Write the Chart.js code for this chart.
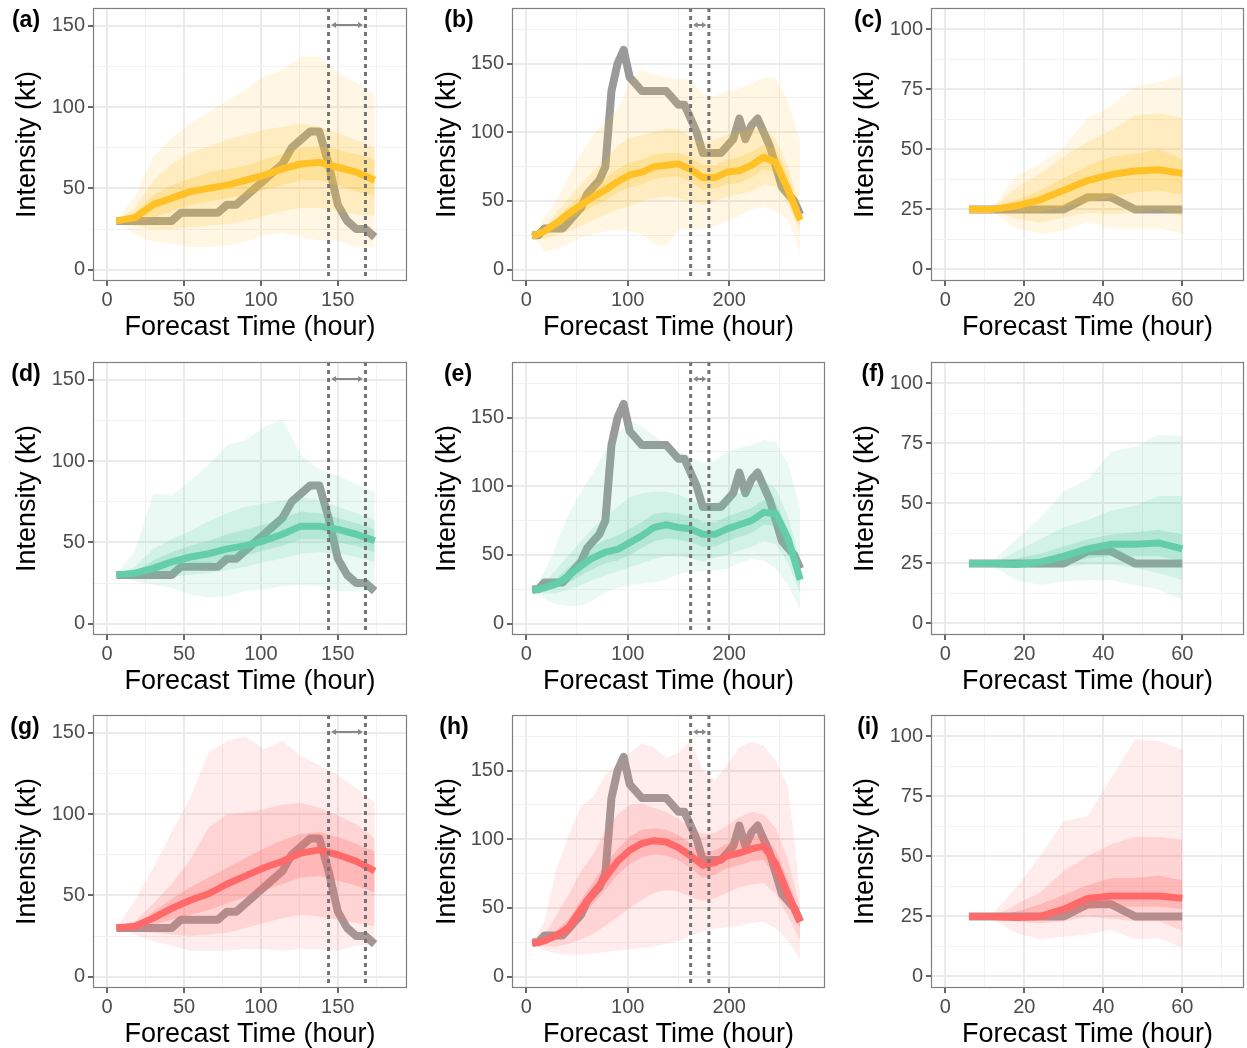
<!DOCTYPE html>
<html>
<head>
<meta charset="utf-8">
<script src="https://cdn.jsdelivr.net/npm/chart.js@4.4.0/dist/chart.umd.min.js"></script>
<style>
  body { margin: 0; background: #fff; overflow: hidden; }
  canvas { position: absolute; }
</style>
</head>
<body>
<canvas id="pa"></canvas><canvas id="pb"></canvas><canvas id="pc"></canvas>
<canvas id="pd"></canvas><canvas id="pe"></canvas><canvas id="pf"></canvas>
<canvas id="pg"></canvas><canvas id="ph"></canvas><canvas id="pi"></canvas>
<script>
// forecast hours (bands) and observed track hours
const hoursA = [6, 18, 30, 42, 54, 66, 78, 90, 102, 114, 126, 138, 150, 162, 174];
const hoursAObs = [6, 12, 18, 24, 30, 36, 42, 48, 54, 60, 66, 72, 78, 84, 90, 96, 102, 108, 114, 120, 126, 132, 138, 144, 150, 156, 162, 168, 174];
const hoursB = [6, 18, 30, 42, 54, 66, 78, 90, 102, 114, 126, 138, 150, 162, 174, 186, 198, 210, 222, 234, 246, 258, 270];
const hoursBObs = [6, 12, 18, 24, 30, 36, 42, 48, 54, 60, 66, 72, 78, 84, 90, 96, 102, 108, 114, 120, 126, 132, 138, 144, 150, 156, 162, 168, 174, 180, 186, 192, 198, 204, 210, 216, 222, 228, 234, 240, 246, 252, 258, 264, 270];
const hoursC = [6, 12, 18, 24, 30, 36, 42, 48, 54, 60];

// observed intensity (kt)
const obsA = [30, 30, 30, 30, 30, 30, 30, 35, 35, 35, 35, 35, 40, 40, 45, 50, 55, 60, 65, 75, 80, 85, 85, 65, 40, 30, 25, 25, 20];
const obsB = [25, 25, 30, 30, 30, 30, 35, 40, 45, 55, 60, 65, 75, 130, 150, 160, 140, 135, 130, 130, 130, 130, 130, 125, 120, 120, 110, 100, 85, 85, 85, 85, 90, 95, 110, 95, 105, 110, 100, 90, 75, 60, 55, 50, 40];
const obsC = [25, 25, 25, 25, 25, 30, 30, 25, 25, 25];

// vertical markers (hour)
const marksA = [144, 168];
const marksB = [162, 180];

// tick values
const xTicksA = [0, 25, 50, 75, 100, 125, 150, 175];
const yTicksA = [0, 25, 50, 75, 100, 125, 150];
const xTicksB = [0, 50, 100, 150, 200, 250];
const yTicksB = [0, 25, 50, 75, 100, 125, 150, 175];
const xTicksC = [0, 10, 20, 30, 40, 50, 60, 70];
const yTicksC = [0, 12.5, 25, 37.5, 50, 62.5, 75, 87.5, 100];

// (a) yellow
const aMed = [30, 32, 40, 44, 48, 50, 52, 55, 58, 62, 65, 66, 63, 60, 55];
const aHi1 = [30, 45, 70, 81, 90, 97, 104, 111, 119, 123, 131, 131, 121, 115, 108];
const aLo1 = [30, 22, 17, 16, 14, 14, 15, 17, 21, 23, 20, 18, 18, 14, 14];
const aHi2 = [30, 38, 55, 65, 72, 76, 80, 83, 86, 88, 90, 88, 84, 80, 75];
const aLo2 = [30, 27, 25, 25, 26, 27, 28, 30, 33, 36, 38, 38, 36, 34, 33];
const aHi3 = [30, 35, 46, 52, 56, 60, 62, 64, 68, 71, 75, 76, 74, 71, 68];
const aLo3 = [30, 29, 32, 36, 40, 42, 44, 46, 49, 52, 55, 55, 52, 48, 45];

// (b) yellow
const bMed = [24, 28, 34, 41, 47, 53, 58, 64, 69, 71, 75, 76, 77, 73, 67, 67, 71, 72, 76, 82, 78, 58, 36];
const bHi1 = [25, 38, 51, 68, 85, 98, 108, 117, 137, 145, 142, 140, 139, 138, 128, 126, 130, 132, 135, 140, 139, 123, 93];
const bLo1 = [25, 13, 15, 19, 23, 26, 28, 29, 28, 26, 19, 17, 29, 29, 30, 32, 35, 39, 44, 46, 42, 37, 12];
const bHi2 = [25, 30, 42, 52, 62, 72, 80, 90, 96, 98, 100, 103, 102, 97, 92, 95, 98, 100, 103, 103, 95, 75, 45];
const bLo2 = [24, 22, 25, 28, 32, 36, 40, 44, 46, 50, 52, 53, 52, 50, 47, 50, 53, 55, 57, 62, 60, 48, 28];
const bHi3 = [25, 31, 38, 46, 54, 61, 67, 73, 78, 80, 84, 85, 85, 82, 76, 76, 80, 82, 86, 91, 88, 68, 40];
const bLo3 = [23, 25, 30, 36, 41, 46, 50, 56, 60, 62, 66, 67, 68, 64, 58, 59, 62, 63, 67, 73, 70, 54, 32];

// (c) yellow
const cMed = [25, 25, 26.5, 29, 33, 37, 39.5, 41, 41.5, 40];
const cHi1 = [25, 26, 39, 44, 51, 63, 68, 76, 78, 81];
const cLo1 = [25, 24, 17, 15, 16, 20, 17, 17, 17, 15];
const cHi2 = [25, 25.5, 34, 40, 47, 53, 58, 64, 65, 63];
const cLo2 = [25, 24.5, 21, 19.5, 21.5, 23.5, 23, 23.5, 25, 22];
const cHi3 = [25, 25, 29, 33, 38, 43, 47, 48, 50, 46];
const cLo3 = [25, 25, 24, 24, 26, 28, 30, 32, 33, 31];

// (d) green
const dMed = [30, 31, 34, 38, 41, 43, 46, 48, 51, 55, 60, 60, 58, 55, 51];
const dHi1 = [30, 45, 80, 79, 88, 98, 110, 113, 121, 126, 104, 95, 91, 86, 81];
const dLo1 = [30, 26, 24, 22, 18, 16, 17, 20, 21, 23, 24, 23, 20, 20, 20];
const dHi2 = [30, 35, 46, 52, 57, 63, 68, 72, 74, 76, 78, 76, 72, 68, 64];
const dLo2 = [30, 28, 28, 29, 30, 31, 33, 35, 38, 40, 43, 44, 43, 41, 38];
const dHi3 = [30, 32, 39, 44, 48, 51, 55, 58, 61, 65, 69, 68, 65, 62, 58];
const dLo3 = [30, 30, 31, 33, 35, 37, 40, 42, 45, 48, 52, 52, 50, 48, 44];

// (e) green
const eMed = [24, 26, 29, 35, 42, 48, 52, 54, 59, 64, 70, 72, 70, 69, 65, 65, 69, 72, 75, 81, 80, 62, 32];
const eHi1 = [25, 38, 58, 80, 96, 110, 126, 138, 148, 143, 137, 130, 125, 121, 117, 119, 125, 128, 130, 134, 132, 116, 84];
const eLo1 = [24, 18, 14, 13, 13, 17, 23, 26, 28, 29, 30, 32, 36, 38, 38, 39, 40, 44, 47, 46, 40, 28, 10];
const eHi2 = [25, 30, 40, 50, 60, 70, 78, 85, 92, 95, 96, 96, 94, 90, 86, 88, 92, 95, 100, 104, 98, 78, 45];
const eLo2 = [23, 22, 22, 25, 28, 32, 35, 38, 41, 44, 47, 49, 49, 48, 45, 48, 50, 53, 56, 60, 58, 44, 22];
const eHi3 = [25, 28, 33, 41, 49, 56, 61, 64, 69, 74, 80, 81, 80, 78, 74, 74, 78, 81, 84, 90, 88, 68, 38];
const eLo3 = [24, 24, 26, 30, 35, 40, 44, 46, 50, 55, 60, 62, 61, 59, 56, 56, 60, 63, 66, 72, 71, 55, 27];

// (f) green
const fMed = [25, 25, 24.5, 25.5, 28, 31, 33, 33, 33.5, 31];
const fHi1 = [25, 26, 35, 44, 55, 60, 71.5, 73.5, 78.5, 78];
const fLo1 = [25, 24, 18, 16, 17.5, 18, 18, 16, 14, 10];
const fHi2 = [25, 25, 30, 35, 40, 43, 47, 49, 53, 53];
const fLo2 = [25, 24.5, 23.5, 23, 23.5, 24.5, 24.5, 23, 21, 18];
const fHi3 = [25, 25, 27, 29, 32, 35, 37, 38, 39, 37];
const fLo3 = [25, 25, 24, 24, 25, 27, 28, 28, 28, 26];

// (g) red
const gMed = [30, 31, 36, 42, 47, 51, 57, 62, 67, 71, 76, 78, 75, 71, 65];
const gHi1 = [30, 47, 67, 89, 110, 138, 145, 148, 140, 145, 136, 130, 124, 116, 107];
const gLo1 = [30, 26, 22, 19, 16, 16, 16, 17, 17, 16, 17, 17, 16, 19, 20];
const gHi2 = [30, 34, 45, 57, 72, 92, 100, 101, 103, 106, 107, 104, 99, 94, 85];
const gLo2 = [30, 28, 27, 26, 25, 26, 27, 30, 33, 36, 38, 37, 35, 33, 31];
const gHi3 = [30, 32, 40, 48, 55, 61, 67, 73, 79, 84, 88, 89, 86, 82, 77];
const gLo3 = [30, 30, 32, 35, 38, 41, 45, 49, 53, 57, 61, 62, 59, 56, 52];

// (h) red
const hMed = [24, 26, 30, 36, 49, 61, 72, 84, 92, 97, 99, 98, 94, 88, 81, 83, 88, 90, 93, 95, 82, 60, 40];
const hHi1 = [25, 40, 79, 103, 124, 131, 147, 154, 163, 170, 167, 159, 163, 172, 150, 143, 154, 167, 171, 168, 157, 138, 60];
const hLo1 = [24, 19, 17, 16, 16, 17, 18, 19, 20, 21, 22, 24, 26, 30, 33, 35, 36, 37, 39, 40, 35, 26, 12];
const hHi2 = [25, 30, 45, 60, 77, 89, 106, 118, 125, 126, 123, 120, 115, 108, 104, 105, 110, 116, 120, 118, 108, 85, 50];
const hLo2 = [24, 22, 22, 24, 27, 31, 37, 43, 50, 56, 61, 63, 62, 58, 55, 57, 61, 65, 67, 68, 60, 44, 26];
const hHi3 = [25, 28, 34, 42, 56, 69, 82, 93, 102, 107, 108, 107, 103, 97, 90, 92, 97, 99, 102, 104, 92, 70, 44];
const hLo3 = [24, 24, 27, 31, 42, 53, 63, 74, 82, 87, 89, 88, 85, 79, 72, 74, 79, 81, 84, 85, 72, 52, 35];

// (i) red
const iMed = [25, 25, 24.5, 25, 28, 32.5, 33.5, 33.5, 33.5, 32.5];
const iHi1 = [25, 26, 37, 50, 64.6, 66.7, 82.6, 98.6, 98, 94.4];
const iLo1 = [25, 24, 18, 15.5, 16.5, 17.5, 19.5, 15.5, 16, 12];
const iHi2 = [25, 25, 30, 35, 44, 50, 55, 58, 58, 57];
const iLo2 = [25, 24.5, 23, 22, 23, 25, 24, 23, 23, 19];
const iHi3 = [25, 25, 27, 30, 34, 38, 41, 41, 42, 40];
const iLo3 = [25, 25, 24, 24, 26, 28, 29, 29, 29, 28];

const YEL = [255, 193, 37];
const GRN = [102, 205, 170];
const RED = [255, 106, 106];

Chart.defaults.font.family = '"Liberation Sans", Arial, sans-serif';

const pts = (xs, ys) => xs.map((x, i) => ({x: x, y: ys[i]}));
const rgba = (c, a) => 'rgba(' + c[0] + ',' + c[1] + ',' + c[2] + ',' + a + ')';

function bandSets(hours, lo, hi, fillColor) {
    return [
        {data: pts(hours, lo), borderColor: 'rgba(0,0,0,0)', borderWidth: 0, pointRadius: 0, fill: false},
        {data: pts(hours, hi), borderColor: 'rgba(0,0,0,0)', borderWidth: 0, pointRadius: 0, fill: '-1', backgroundColor: fillColor}
    ];
}

function isMajor(v, major) {
    return Math.abs(v % major) < 1e-9;
}

function axis(min, max, tickVals, major, title, isX, size) {
    return {
        type: 'linear',
        position: isX ? 'bottom' : 'left',
        min: min,
        max: max,
        border: {display: false},
        afterBuildTicks: sc => { sc.ticks = tickVals.map(v => ({value: v})); },
        afterFit: sc => {
            // fixed axis box, no extra room for end labels
            if (isX) sc.height = 60; else sc.width = size;
            sc.paddingTop = 0; sc.paddingBottom = 0;
            sc.paddingLeft = 0; sc.paddingRight = 0;
        },
        grid: {
            color: c => (c.tick && isMajor(c.tick.value, major)) ? '#ebebeb' : '#f2f2f2',
            lineWidth: c => (c.tick && isMajor(c.tick.value, major)) ? 2 : 1,
            tickLength: 5,
            tickWidth: 1.5,
            tickColor: c => (c.tick && isMajor(c.tick.value, major)) ? '#333333' : 'rgba(0,0,0,0)'
        },
        ticks: {
            autoSkip: false,
            maxRotation: 0,
            color: '#4d4d4d',
            font: {size: 20},
            padding: isX ? 2 : 3,
            callback: v => isMajor(v, major) ? v : ''
        },
        title: {
            display: true,
            text: title,
            color: '#000000',
            font: {size: 27, lineHeight: 1},
            padding: isX ? {top: 0, bottom: 0} : {top: 14, bottom: 0}
        }
    };
}

const panelDeco = {
    id: 'panelDeco',
    afterDatasetsDraw(chart, args, opts) {
        const ctx = chart.ctx;
        const a = chart.chartArea;
        const xs = chart.scales.x;
        ctx.save();
        if (opts.marks.length) {
            const px = opts.marks.map(m => xs.getPixelForValue(m));
            ctx.strokeStyle = '#747474';
            ctx.lineWidth = 3;
            ctx.setLineDash([4, 4]);
            px.forEach(x => {
                ctx.beginPath();
                ctx.moveTo(x, a.top);
                ctx.lineTo(x, a.bottom);
                ctx.stroke();
            });
            // double arrow between the markers
            ctx.setLineDash([]);
            const y = a.top + 17;
            const x1 = px[0] + 2.5, x2 = px[1] - 2.5;
            const head = Math.min(5, (x2 - x1) / 3);
            ctx.strokeStyle = '#888888';
            ctx.fillStyle = '#888888';
            ctx.lineWidth = 2;
            ctx.beginPath();
            ctx.moveTo(x1 + 2, y);
            ctx.lineTo(x2 - 2, y);
            ctx.stroke();
            ctx.beginPath();
            ctx.moveTo(x1, y); ctx.lineTo(x1 + head, y - 3); ctx.lineTo(x1 + head, y + 3); ctx.closePath();
            ctx.moveTo(x2, y); ctx.lineTo(x2 - head, y - 3); ctx.lineTo(x2 - head, y + 3); ctx.closePath();
            ctx.fill();
        }
        ctx.strokeStyle = '#7f7f7f';
        ctx.lineWidth = 1.2;
        ctx.strokeRect(a.left + 0.5, a.top + 0.5, a.right - a.left - 1, a.bottom - a.top - 1);
        ctx.fillStyle = '#000000';
        ctx.font = 'bold 23px "Liberation Sans", Arial, sans-serif';
        ctx.textAlign = 'center';
        ctx.textBaseline = 'middle';
        ctx.fillText(opts.tag, opts.tagX, 21);
        ctx.restore();
    }
};

const colLeft = [0, 420, 838];
const colWidth = [415, 413, 409];
const yAxisWidth = [93, 92, 93];
const rightPad = [8, 8, 3];
const rowTop = [0, 354, 707];
const canvasH = 341;

function makePanel(id, row, col, tag, tagX, color, hours, med, lo1, hi1, lo2, hi2, lo3, hi3, obsHours, obs, marks, xr, yr, xt, yt, xMajor, yMajor) {
    const el = document.getElementById(id);
    el.width = colWidth[col];
    el.height = canvasH;
    el.style.left = colLeft[col] + 'px';
    el.style.top = rowTop[row] + 'px';
    const datasets = []
        .concat(bandSets(hours, lo1, hi1, rgba(color, 0.13)))
        .concat(bandSets(hours, lo2, hi2, rgba(color, 0.18)))
        .concat(bandSets(hours, lo3, hi3, rgba(color, 0.26)));
    datasets.push({data: pts(hours, med), borderColor: rgba(color, 1), borderWidth: 7, pointRadius: 0, fill: false,
        borderCapStyle: 'butt', borderJoinStyle: 'round'});
    datasets.push({data: pts(obsHours, obs), borderColor: '#9a9a9a', borderWidth: 8, pointRadius: 0, fill: false,
        borderCapStyle: 'butt', borderJoinStyle: 'round'});
    new Chart(el, {
        type: 'line',
        data: {datasets: datasets},
        options: {
            responsive: false,
            animation: false,
            devicePixelRatio: 1,
            events: [],
            layout: {padding: {top: 8, right: rightPad[col], left: 0, bottom: 0}},
            scales: {
                x: axis(xr[0], xr[1], xt, xMajor, 'Forecast Time (hour)', true, 0),
                y: axis(yr[0], yr[1], yt, yMajor, 'Intensity (kt)', false, yAxisWidth[col])
            },
            plugins: {
                legend: {display: false},
                tooltip: {enabled: false},
                panelDeco: {marks: marks, tag: tag, tagX: tagX}
            }
        },
        plugins: [panelDeco]
    });
}

const rangeXA = [-9.2, 195], rangeYA = [-7, 161];
const rangeXB = [-14, 294.4], rangeYB = [-8.3, 190.5];
const rangeXC = [-3.6, 75.6], rangeYC = [-4.8, 108.8];

makePanel('pa', 0, 0, '(a)', 26, YEL, hoursA, aMed, aLo1, aHi1, aLo2, aHi2, aLo3, aHi3, hoursAObs, obsA, marksA, rangeXA, rangeYA, xTicksA, yTicksA, 50, 50);
makePanel('pb', 0, 1, '(b)', 39, YEL, hoursB, bMed, bLo1, bHi1, bLo2, bHi2, bLo3, bHi3, hoursBObs, obsB, marksB, rangeXB, rangeYB, xTicksB, yTicksB, 100, 50);
makePanel('pc', 0, 2, '(c)', 30, YEL, hoursC, cMed, cLo1, cHi1, cLo2, cHi2, cLo3, cHi3, hoursC, obsC, [], rangeXC, rangeYC, xTicksC, yTicksC, 20, 25);
makePanel('pd', 1, 0, '(d)', 26, GRN, hoursA, dMed, dLo1, dHi1, dLo2, dHi2, dLo3, dHi3, hoursAObs, obsA, marksA, rangeXA, rangeYA, xTicksA, yTicksA, 50, 50);
makePanel('pe', 1, 1, '(e)', 38, GRN, hoursB, eMed, eLo1, eHi1, eLo2, eHi2, eLo3, eHi3, hoursBObs, obsB, marksB, rangeXB, rangeYB, xTicksB, yTicksB, 100, 50);
makePanel('pf', 1, 2, '(f)', 35, GRN, hoursC, fMed, fLo1, fHi1, fLo2, fHi2, fLo3, fHi3, hoursC, obsC, [], rangeXC, rangeYC, xTicksC, yTicksC, 20, 25);
makePanel('pg', 2, 0, '(g)', 25, RED, hoursA, gMed, gLo1, gHi1, gLo2, gHi2, gLo3, gHi3, hoursAObs, obsA, marksA, rangeXA, rangeYA, xTicksA, yTicksA, 50, 50);
makePanel('ph', 2, 1, '(h)', 34, RED, hoursB, hMed, hLo1, hHi1, hLo2, hHi2, hLo3, hHi3, hoursBObs, obsB, marksB, rangeXB, rangeYB, xTicksB, yTicksB, 100, 50);
makePanel('pi', 2, 2, '(i)', 30, RED, hoursC, iMed, iLo1, iHi1, iLo2, iHi2, iLo3, iHi3, hoursC, obsC, [], rangeXC, rangeYC, xTicksC, yTicksC, 20, 25);
</script>
</body>
</html>
